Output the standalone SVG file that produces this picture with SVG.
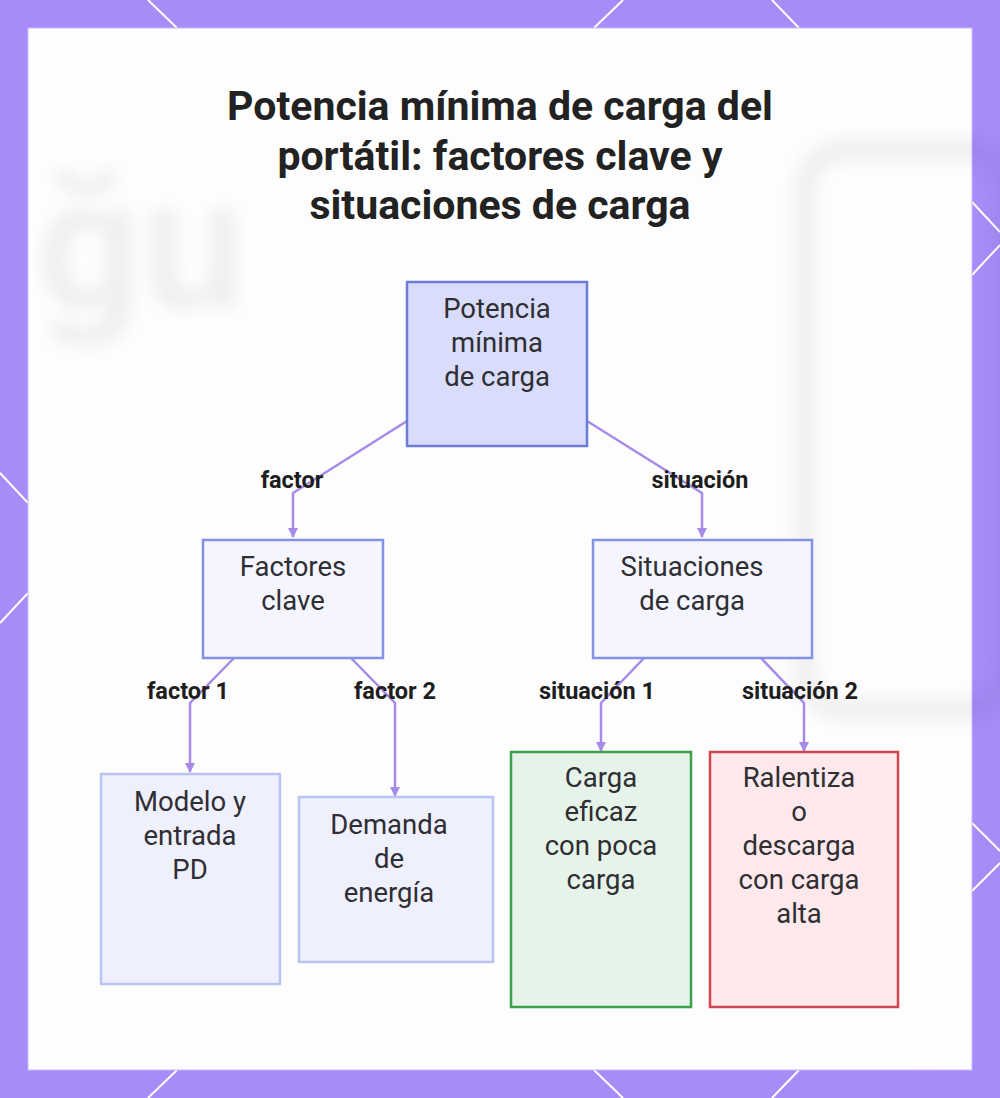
<svg xmlns="http://www.w3.org/2000/svg" width="1000" height="1098" viewBox="0 0 1000 1098">
  <defs>
    <filter id="blur" x="-20%" y="-20%" width="140%" height="140%">
      <feGaussianBlur stdDeviation="8"/>
    </filter>
    <marker id="arrow" viewBox="0 0 10 10" refX="9" refY="5" markerWidth="4" markerHeight="4" orient="auto-start-reverse">
      <path d="M0,0 L10,5 L0,10 z" fill="#a68aea"/>
    </marker>
    <style>
      .title { font-family: Roboto, "Liberation Sans", sans-serif; font-weight: 700; font-size: 41px; fill: #222222; text-anchor: middle; }
      .ntext { font-family: Roboto, "Liberation Sans", sans-serif; font-size: 27.5px; fill: #2e2e33; text-anchor: middle; }
      .elabel { font-family: Roboto, "Liberation Sans", sans-serif; font-weight: 700; font-size: 23.5px; fill: #1e1e1e; text-anchor: middle; }
      .edge { fill: none; stroke: #a68aea; stroke-width: 2.5; stroke-linejoin: round; }
      .deco { stroke: #ffffff; stroke-width: 2; fill: none; }
      .root { fill: #d9dcfb; stroke: #6c7dd7; stroke-width: 2.5; }
      .mid { fill: #f4f5fe; stroke: #8392e3; stroke-width: 2.5; }
      .leaf { fill: #eef0fd; stroke: #bac4f0; stroke-width: 2.5; }
      .good { fill: #e6f3e8; stroke: #3fa04c; stroke-width: 2.5; }
      .bad { fill: #fde8eb; stroke: #cf4551; stroke-width: 2.5; }
    </style>
  </defs>

  <!-- border frame -->
  <rect x="0" y="0" width="1000" height="1098" fill="#a78cf8"/>
  <g class="deco">
    <line x1="148" y1="0" x2="177" y2="28"/>
    <line x1="623" y1="0" x2="594" y2="28"/>
    <line x1="772" y1="0" x2="799" y2="28"/>
    <line x1="177" y1="1070" x2="148" y2="1098"/>
    <line x1="594" y1="1070" x2="623" y2="1098"/>
    <line x1="799" y1="1070" x2="772" y2="1098"/>
    <line x1="0" y1="473" x2="28" y2="503"/>
    <line x1="28" y1="593" x2="0" y2="623"/>
    <line x1="972" y1="202" x2="1000" y2="232"/>
    <line x1="1000" y1="245" x2="972" y2="275"/>
    <line x1="972" y1="823" x2="1000" y2="851"/>
    <line x1="1000" y1="863" x2="972" y2="891"/>
  </g>

  <!-- panel -->
  <rect x="28" y="28" width="944" height="1042" fill="#fdfdfd" stroke="#c8b8fb" stroke-width="1"/>
  <g opacity="0.05" filter="url(#blur)">
    <text x="36" y="308" font-family="Roboto, 'Liberation Sans', sans-serif" font-weight="700" font-size="185" fill="#000">ğu</text>
    <rect x="805" y="150" width="200" height="560" rx="40" fill="none" stroke="#000" stroke-width="22"/>
  </g>
  <g opacity="0.5">
    <circle cx="925" cy="1023" r="42" fill="none" stroke="#ffffff" stroke-width="1.5"/>
  </g>

  <!-- title -->
  <g id="title">
    <text class="title" x="500" y="120">Potencia mínima de carga del</text>
    <text class="title" x="500" y="170">portátil: factores clave y</text>
    <text class="title" x="500" y="219">situaciones de carga</text>
  </g>

  <!-- connectors -->
  <g id="connectors">
    <path class="edge" d="M407,421 L293,493 L293,537" marker-end="url(#arrow)"/>
    <path class="edge" d="M587,421 L702,493 L702,537" marker-end="url(#arrow)"/>
    <path class="edge" d="M235,657 L190,703 L190,772" marker-end="url(#arrow)"/>
    <path class="edge" d="M350,657 L395,703 L395,796" marker-end="url(#arrow)"/>
    <path class="edge" d="M645,657 L601,703 L601,751" marker-end="url(#arrow)"/>
    <path class="edge" d="M760,657 L804,703 L804,751" marker-end="url(#arrow)"/>
    <text class="elabel" x="292" y="488">factor</text>
    <text class="elabel" x="700" y="488">situación</text>
    <text class="elabel" x="188" y="699">factor 1</text>
    <text class="elabel" x="395" y="699">factor 2</text>
    <text class="elabel" x="597" y="699">situación 1</text>
    <text class="elabel" x="800" y="699">situación 2</text>
  </g>

  <!-- nodes -->
  <g id="node-root">
    <rect class="root" x="407" y="282" width="180" height="164"/>
    <text class="ntext" x="497" y="318">Potencia</text>
    <text class="ntext" x="497" y="352">mínima</text>
    <text class="ntext" x="497" y="386">de carga</text>
  </g>
  <g id="node-factores">
    <rect class="mid" x="203" y="540" width="180" height="118"/>
    <text class="ntext" x="293" y="576">Factores</text>
    <text class="ntext" x="293" y="610">clave</text>
  </g>
  <g id="node-situaciones">
    <rect class="mid" x="593" y="540" width="219" height="118"/>
    <text class="ntext" x="692" y="576">Situaciones</text>
    <text class="ntext" x="692" y="610">de carga</text>
  </g>
  <g id="node-modelo">
    <rect class="leaf" x="101" y="774" width="179" height="210"/>
    <text class="ntext" x="190" y="811">Modelo y</text>
    <text class="ntext" x="190" y="845">entrada</text>
    <text class="ntext" x="190" y="879">PD</text>
  </g>
  <g id="node-demanda">
    <rect class="leaf" x="299" y="797" width="194" height="165"/>
    <text class="ntext" x="389" y="834">Demanda</text>
    <text class="ntext" x="389" y="868">de</text>
    <text class="ntext" x="389" y="902">energía</text>
  </g>
  <g id="node-eficaz">
    <rect class="good" x="511" y="752" width="180" height="255"/>
    <text class="ntext" x="601" y="787">Carga</text>
    <text class="ntext" x="601" y="821">eficaz</text>
    <text class="ntext" x="601" y="855">con poca</text>
    <text class="ntext" x="601" y="889">carga</text>
  </g>
  <g id="node-ralentiza">
    <rect class="bad" x="710" y="752" width="188" height="255"/>
    <text class="ntext" x="799" y="787">Ralentiza</text>
    <text class="ntext" x="799" y="821">o</text>
    <text class="ntext" x="799" y="855">descarga</text>
    <text class="ntext" x="799" y="889">con carga</text>
    <text class="ntext" x="799" y="923">alta</text>
  </g>
</svg>
